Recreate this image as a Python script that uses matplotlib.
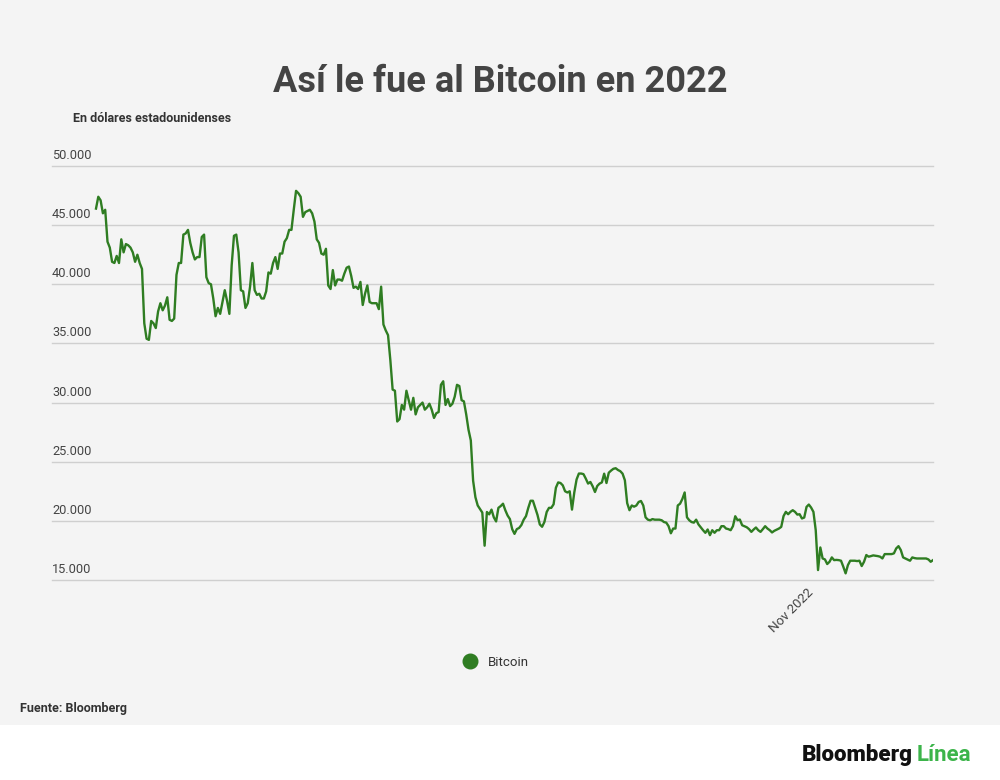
import numpy as np
import pandas as pd
import matplotlib
matplotlib.use("Agg")
from matplotlib import pyplot as plt
from matplotlib.lines import Line2D
from matplotlib.patches import Rectangle
import matplotlib.transforms as mtransforms

plt.rcParams['font.family'] = ['Roboto', 'DejaVu Sans']

# precio de cierre diario del Bitcoin en 2022 (USD)
ene = [46400, 47400, 47100, 46000, 46300, 43600, 43100, 41900, 41800, 42400,
       41800, 43800, 42700, 43400, 43300, 43100, 42700, 41900, 42500, 41800,
       41300, 36700, 35400, 35300, 36900, 36700, 36300, 37700, 38400, 37800,
       38200]
feb = [38900, 37000, 36900, 37100, 40800, 41800, 41800, 44200, 44300, 44600,
       43500, 42700, 42100, 42300, 42300, 44000, 44200, 40600, 40100, 40000,
       38800, 37300, 38000, 37500, 38500, 39500, 38600, 37500]
mar = [41600, 44100, 44200, 42700, 39500, 39400, 38000, 38400, 39800, 41800,
       39500, 39100, 39200, 38800, 38800, 39400, 41000, 40900, 41800, 42300,
       41300, 42600, 42600, 43600, 43900, 44600, 44600, 46300, 47900, 47700,
       47400]
abr = [45700, 46100, 46200, 46300, 46000, 45300, 43800, 43500, 42600, 42500,
       43000, 39900, 39600, 41200, 39900, 40400, 40400, 40300, 40900, 41400,
       41500, 40700, 39700, 39800, 39600, 40200, 38250, 39200, 39900, 38500]
may = [38400, 38400, 38400, 37900, 39800, 36600, 36100, 35700, 33600, 31100,
       31000, 28400, 28600, 29800, 29400, 31000, 30200, 29400, 30400, 29000,
       29600, 29800, 30000, 29400, 29600, 29900, 29400, 28700, 29100, 29200,
       31500]
jun = [31800, 29800, 30300, 29700, 29900, 30500, 31500, 31400, 30200, 30100,
       29000, 27700, 26800, 23400, 22000, 21300, 21000, 20700, 17900, 20750,
       20550, 20950, 20300, 19950, 21100, 21250, 21450, 20900, 20450, 20150]
jul = [19300, 18900, 19300, 19400, 19650, 20100, 20400, 21100, 21700, 21700,
       21100, 20500, 19700, 19500, 19900, 20750, 21100, 21100, 21400, 22800,
       23250, 23200, 23000, 22500, 22400, 22500, 20950, 22400, 23500, 24000,
       24000]
ago = [23950, 23570, 23150, 23290, 22920, 22440, 22950, 23150, 23250, 23990,
       23200, 24070, 24250, 24400, 24450, 24300, 24200, 23990, 23430, 21500,
       20900, 21300, 21200, 21300, 21600, 21680, 21300, 20300, 20100, 20050,
       20150]
sep = [20100, 20100, 20100, 20050, 19900, 19850, 19550, 18950, 19350, 19350,
       21300, 21450, 21850, 22400, 20300, 20050, 19900, 19850, 20100, 19700,
       19450, 19210, 18990, 19270, 18790, 19210, 18990, 19210, 19210, 19550]
oct_ = [19550, 19350, 19300, 19210, 19550, 20390, 20060, 20110, 19630, 19550,
        19460, 19300, 19070, 19270, 19440, 19210, 19070, 19300, 19550, 19350,
        19210, 19020, 19160, 19250, 19350, 19490, 20400, 20760, 20560, 20760,
        20900]
nov = [20760, 20530, 20560, 20200, 20280, 21180, 21380, 21120, 20760, 19210,
       15840, 17750, 16820, 16740, 16350, 16540, 16910, 16680, 16700, 16680,
       16630, 16120, 15560, 16260, 16630, 16630, 16630, 16600, 16630, 16180]
dic = [16540, 17110, 16970, 17020, 17080, 17050, 17020, 16970, 16820, 17190,
       17190, 17190, 17190, 17250, 17670, 17860, 17530, 16910, 16820, 16740,
       16630, 16910, 16850, 16820, 16820, 16820, 16820, 16820, 16740, 16540,
       16680]

btc = ene + feb + mar + abr + may + jun + jul + ago + sep + oct_ + nov + dic
fechas = pd.date_range("2022-01-01", periods=len(btc), freq="D")

y_ticks = [15000, 20000, 25000, 30000, 35000, 40000, 45000, 50000]
y_labels = ["15.000", "20.000", "25.000", "30.000", "35.000", "40.000",
            "45.000", "50.000"]

verde = '#2f7d22'
gris_fondo = '#f4f4f4'

W, H = 1000, 780
fig = plt.figure(figsize=(W / 100, H / 100), dpi=100)
fig.patch.set_facecolor('white')
fig.add_artist(Rectangle((0, 1 - 725 / H), 1, 725 / H, transform=fig.transFigure,
                         facecolor=gris_fondo, edgecolor='none', zorder=0))

left, right, top, bottom = 52, 933, 166, 580
ax = fig.add_axes([left / W, 1 - bottom / H, (right - left) / W, (bottom - top) / H])
ax.set_facecolor('none')

ax.plot(fechas, btc, color=verde, lw=1.7, zorder=3, solid_joinstyle='round')

# espacio a la izquierda para las etiquetas del eje y
px_dia = (right - 96) / (len(btc) - 1)
margen = pd.Timedelta(days=(96 - left) / px_dia)
ax.set_xlim(fechas[0] - margen, fechas[-1])
ax.set_ylim(15000, 50000)

subir = mtransforms.ScaledTranslation(0, 4 / 100, fig.dpi_scale_trans)
for v, lab in zip(y_ticks, y_labels):
    ax.axhline(v, color='#cfcfcf', lw=1, zorder=1, clip_on=False)
    ax.text(0, v, lab, transform=ax.get_yaxis_transform() + subir,
            ha='left', va='bottom', fontsize=9.2, color='#444444')

for s in ax.spines.values():
    s.set_visible(False)
ax.set_yticks([])
ax.set_xticks([])

nov1 = pd.Timestamp("2022-11-01")
ax.annotate("Nov 2022", xy=(nov1, 15000), xycoords='data', xytext=(12, -6),
            textcoords='offset pixels', rotation=45, ha='right', va='top',
            rotation_mode='anchor', fontsize=9.5, color='#444444')

fig.text(0.5, 1 - 92 / H, "Así le fue al Bitcoin en 2022", ha='center', va='baseline',
         fontsize=26, fontweight='bold', color='#444444')
fig.text(73 / W, 1 - 122 / H, "En dólares estadounidenses", ha='left', va='baseline',
         fontsize=9, fontweight='bold', color='#333333')

handle = Line2D([], [], marker='o', linestyle='none', markersize=10.5,
                markerfacecolor=verde, markeredgecolor=verde)
ax.legend([handle], ["Bitcoin"], loc='center', bbox_to_anchor=(496 / W, 1 - 662 / H),
          bbox_transform=fig.transFigure, frameon=False, fontsize=9.5,
          handletextpad=0.9, labelcolor='#333333', handlelength=1)

fig.text(20 / W, 1 - 712 / H, "Fuente: Bloomberg", ha='left', va='baseline',
         fontsize=9, fontweight='bold', color='#333333')

logo1 = fig.text(802 / W, 1 - 761 / H, "Bloomberg", ha='left', va='baseline',
                 fontsize=16, fontweight='heavy', color='#111111')
fig.canvas.draw()
bb = logo1.get_window_extent()
fig.text((bb.x1 + 4) / W, 1 - 761 / H, "Línea", ha='left', va='baseline',
         fontsize=16, fontweight='bold', color='#3cb44a')

fig.savefig("out.png", dpi=100, facecolor=fig.get_facecolor())
plt.close(fig)
